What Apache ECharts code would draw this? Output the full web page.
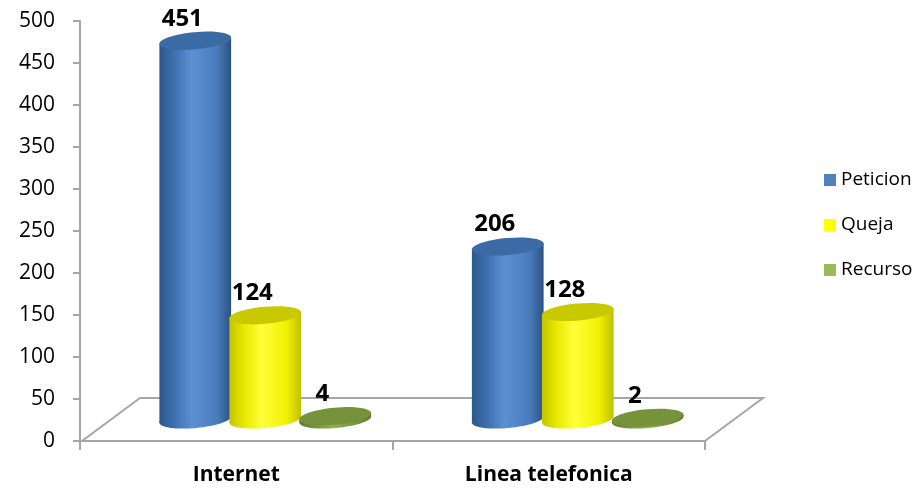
<!DOCTYPE html>
<html>
<head>
<meta charset="utf-8">
<script src="https://cdn.jsdelivr.net/npm/echarts@6/dist/echarts.min.js"></script>
<style>
  html, body { margin: 0; padding: 0; background: #fff; }
  #chart { width: 924px; height: 490px; }
</style>
</head>
<body>
<div id="chart"></div>
<script>
// Canales de recepción por tipo de solicitud
const categories = ['Internet', 'Linea telefonica'];
const seriesNames = ['Peticion', 'Queja', 'Recurso'];
const peticion = [451, 206];
const queja = [124, 128];
const recurso = [4, 2];
const yTicks = { min: 0, max: 500, interval: 50 };

const FONT = '"Open Sans", "Liberation Sans", sans-serif';
// floor depth (px) of the 3D box, bars stand in its middle
const DEPTH_X = 58, DEPTH_Y = 43;
const BAR_W = 72, BAR_STEP = 70, RY = 8.5, TILT = 0.09;

const palette = [
  { legend: '#4f81bd', top: '#3c6aa4', stops: ['#2d5789', '#3d6fae', '#5b90d3', '#4a7cbc', '#2b5283'] },
  { legend: '#ffff00', top: '#c9c900', stops: ['#c4c400', '#e8e800', '#ffff3a', '#f0f000', '#c0c000'] },
  { legend: '#9bbb59', top: '#76923b', stops: ['#5f7a2c', '#76923b', '#8fae4e', '#76923b', '#5f7a2c'] }
];

function bodyFill(p) {
  return new echarts.graphic.LinearGradient(0, 0, 1, 0, [
    { offset: 0, color: p.stops[0] },
    { offset: 0.2, color: p.stops[1] },
    { offset: 0.45, color: p.stops[2] },
    { offset: 0.8, color: p.stops[3] },
    { offset: 1, color: p.stops[4] }
  ]);
}

function cylinder(si) {
  const p = palette[si];
  return function (params, api) {
    const cat = api.value(0), val = api.value(1);
    const topPt = api.coord([cat, val]);
    const basePt = api.coord([cat, 0]);
    const cx = topPt[0] + (si - 1) * BAR_STEP + DEPTH_X / 2;
    const yTop = topPt[1] - DEPTH_Y / 2;
    const yBase = basePt[1] - DEPTH_Y / 2;
    const rx = BAR_W / 2;
    // end points of the tilted ellipses
    const dx = rx * Math.cos(TILT), dy = rx * Math.sin(TILT);
    const fill = bodyFill(p);
    return {
      type: 'group',
      children: [
        { type: 'ellipse', shape: { cx: cx, cy: yBase, rx: rx, ry: RY },
          rotation: TILT, originX: cx, originY: yBase, style: { fill: fill } },
        { type: 'polygon',
          shape: { points: [[cx - dx, yTop + dy], [cx + dx, yTop - dy], [cx + dx, yBase - dy], [cx - dx, yBase + dy]] },
          style: { fill: fill } },
        { type: 'ellipse', shape: { cx: cx, cy: yTop, rx: rx, ry: RY },
          rotation: TILT, originX: cx, originY: yTop, style: { fill: p.top } },
        { type: 'text', x: cx - 13, y: yTop - 22,
          style: { text: String(val), fill: '#000', font: 'bold 24px ' + FONT,
                   align: 'center', verticalAlign: 'middle' } }
      ]
    };
  };
}

function floor(params, api) {
  const cs = params.coordSys;
  const y0 = api.coord([0, 0])[1];
  const xl = cs.x + 2, xr = cs.x + cs.width;
  return {
    type: 'polyline',
    shape: { points: [[xl, y0], [xl + DEPTH_X, y0 - DEPTH_Y], [xr + DEPTH_X, y0 - DEPTH_Y], [xr, y0]] },
    style: { stroke: '#a6a6a6', lineWidth: 2, fill: 'none' },
    silent: true
  };
}

const chart = echarts.init(document.getElementById('chart'), null, { renderer: 'canvas' });
const values = [peticion, queja, recurso];

chart.setOption({
  backgroundColor: '#ffffff',
  animation: false,
  grid: { left: 80, right: 219, top: 21, bottom: 49, containLabel: false },
  legend: {
    orient: 'vertical', left: 819, top: 165,
    icon: 'rect', itemWidth: 12, itemHeight: 12, itemGap: 25,
    textStyle: { fontFamily: FONT, fontSize: 19, color: '#000', lineHeight: 20 },
    data: seriesNames
  },
  xAxis: {
    type: 'category', data: categories,
    axisLine: { show: true, lineStyle: { color: '#a6a6a6', width: 2 } },
    axisTick: { show: true, length: 9, lineStyle: { color: '#a6a6a6', width: 2 } },
    axisLabel: { margin: 24, fontFamily: FONT, fontSize: 21, fontWeight: 'bold', color: '#000' }
  },
  yAxis: {
    type: 'value', min: yTicks.min, max: yTicks.max, interval: yTicks.interval,
    axisLine: { show: true, lineStyle: { color: '#a6a6a6', width: 2 } },
    axisTick: { show: true, length: 7, lineStyle: { color: '#a6a6a6', width: 2 } },
    axisLabel: { margin: 25, fontFamily: FONT, fontSize: 21, color: '#000' },
    splitLine: { show: false }
  },
  series: [
    { type: 'custom', name: '_floor', renderItem: floor, data: [[0, 0]], silent: true, z: 1 }
  ].concat(seriesNames.map(function (name, si) {
    return {
      type: 'custom', name: name, z: 2 + si,
      itemStyle: { color: palette[si].legend },
      encode: { x: 0, y: 1 },
      renderItem: cylinder(si),
      data: values[si].map(function (v, i) { return [i, v]; })
    };
  }))
});
</script>
</body>
</html>
